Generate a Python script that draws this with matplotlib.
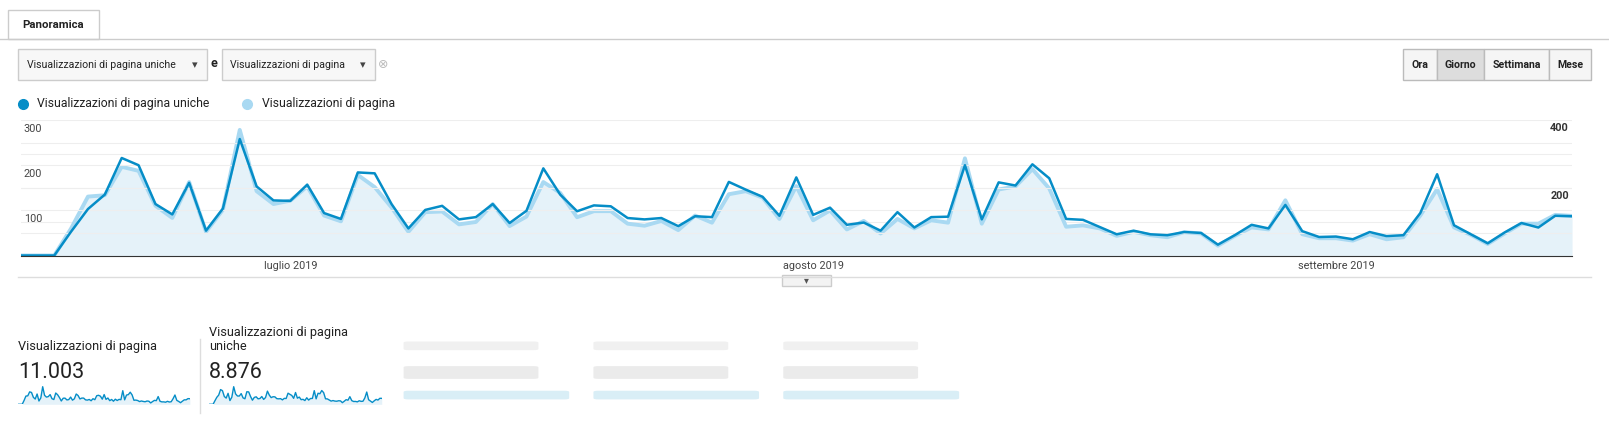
import matplotlib
matplotlib.use("Agg")
import matplotlib.pyplot as plt
from matplotlib.patches import Rectangle, FancyBboxPatch
from matplotlib.transforms import blended_transform_factory
import numpy as np

plt.rcParams['font.family'] = ['Roboto', 'DejaVu Sans']

W, H = 1609, 426
S = 1609 / 1568

# values (daily, 15 Jun - 15 Sep 2019)
unique_views = [0, 0, 0, 53, 103, 135, 216, 200, 114, 91, 161, 55, 104, 258, 153, 122,
                121, 157, 94, 81, 184, 182, 114, 60, 101, 110, 80, 85, 114, 72, 99, 193,
                135, 98, 111, 109, 83, 80, 83, 65, 87, 85, 163, 146, 130, 88, 173, 90,
                106, 68, 73, 55, 96, 62, 85, 86, 200, 80, 162, 155, 202, 171, 81, 79,
                63, 47, 55, 47, 45, 52, 50, 24, 45, 68, 60, 112, 54, 41, 42, 36, 52, 43,
                45, 94, 180, 67, 47, 27, 51, 72, 62, 88, 87]
page_views = [0, 0, 0, 80, 174, 178, 262, 250, 147, 111, 217, 70, 135, 371, 190, 152,
              162, 204, 118, 101, 238, 202, 142, 70, 128, 130, 92, 99, 152, 87, 115, 217,
              185, 113, 131, 131, 94, 88, 102, 75, 118, 97, 181, 190, 171, 108, 205, 104,
              133, 77, 102, 65, 108, 80, 104, 97, 287, 94, 195, 204, 255, 198, 85, 89,
              80, 58, 70, 60, 54, 69, 65, 29, 58, 83, 77, 163, 63, 51, 51, 44, 63, 48,
              54, 118, 196, 83, 61, 34, 65, 94, 94, 120, 117]
month_idx = [16, 47, 78]
month_labels = ["luglio 2019", "agosto 2019", "settembre 2019"]
left_ticks = [100, 200, 300]
right_ticks = [200, 400]

DARK = "#058dc7"
LIGHT = "#a9d9f2"
FILL = "#e5f2f9"

fig = plt.figure(figsize=(W / 100, H / 100), dpi=100)
fig.patch.set_facecolor("white")

def fx(x):
    return x * S / W

def fy(y):
    return 1 - y * S / H

def txt(x, y, s, **kw):
    kw.setdefault("fontsize", 8.2)
    kw.setdefault("color", "#222222")
    kw.setdefault("va", "center")
    fig.text(fx(x), fy(y), s, **kw)

def rect(x0, y0, x1, y1, fc="white", ec="#cccccc", lw=1, z=1, **kw):
    fig.patches.append(Rectangle((fx(x0), fy(y1)), fx(x1) - fx(x0), fy(y0) - fy(y1),
                                 transform=fig.transFigure, facecolor=fc, edgecolor=ec,
                                 linewidth=lw, zorder=z, **kw))

def hline(x0, x1, y, color="#cccccc", lw=1):
    fig.add_artist(plt.Line2D([fx(x0), fx(x1)], [fy(y), fy(y)], color=color, lw=lw,
                              transform=fig.transFigure))

# tab
hline(0, 1568, 38)
rect(8, 10, 96, 38, fc="white", ec="#cccccc")
txt(52, 24, "Panoramica", ha="center", fontweight="bold", fontsize=8.2)

# dropdowns
rect(18, 48, 202, 78, fc="#f7f7f7")
txt(26, 63, "Visualizzazioni di pagina uniche", fontsize=7.6)
txt(190, 63, "▾", ha="center", fontsize=8, color="#444444")
txt(208, 62, "e", ha="center", fontsize=9, fontweight="bold")
rect(216, 48, 365, 78, fc="#f7f7f7")
txt(224, 63, "Visualizzazioni di pagina", fontsize=7.6)
txt(354, 63, "▾", ha="center", fontsize=8, color="#444444")
txt(373, 63, "⊗", ha="center", fontsize=9, color="#bbbbbb")

# buttons
btns = [("Ora", 1367, 1400), ("Giorno", 1400, 1446), ("Settimana", 1446, 1510), ("Mese", 1510, 1550)]
for lab, a, b in btns:
    rect(a, 48, b, 78, fc="#dddddd" if lab == "Giorno" else "#f5f5f5", ec="#bbbbbb")
    txt((a + b) / 2, 63, lab, ha="center", fontweight="bold", fontsize=7.6)

# legend
fig.add_artist(plt.Line2D([fx(22)], [fy(101)], marker="o", markersize=7, color=DARK,
                          transform=fig.transFigure))
txt(36, 101, "Visualizzazioni di pagina uniche", fontsize=8.8)
fig.add_artist(plt.Line2D([fx(241)], [fy(101)], marker="o", markersize=7, color=LIGHT,
                          transform=fig.transFigure))
txt(255, 101, "Visualizzazioni di pagina", fontsize=8.8)

# main chart
x = np.arange(len(unique_views))
ax = fig.add_axes([fx(20), fy(249), fx(1532) - fx(20), fy(117) - fy(249)])
ax2 = ax.twinx()
ax2.set_zorder(1)
ax.set_zorder(2)
ax.patch.set_visible(False)
ax.set_xlim(0, len(x) - 1)
ax.set_ylim(0, 300)
ax2.set_ylim(0, 400)
for v in [50, 100, 150, 200, 250, 300]:
    ax.axhline(v, color="#eeeeee", lw=0.8, zorder=0)
for v in [100, 200, 300]:
    ax2.axhline(v, color="#eeeeee", lw=0.8, zorder=0)
ax2.fill_between(x, page_views, 0, color=FILL, lw=0)
ax2.plot(x, page_views, color=LIGHT, lw=2.8)
ax.plot(x, unique_views, color=DARK, lw=1.8)
for a in (ax, ax2):
    for sp in a.spines.values():
        sp.set_visible(False)
    a.set_yticks([])
ax.spines["bottom"].set_visible(True)
ax.spines["bottom"].set_color("#333333")
ax.set_xticks(month_idx)
ax.set_xticklabels(month_labels, fontsize=7.8, color="#444444")
ax.tick_params(axis="x", length=0, pad=4)
tl = blended_transform_factory(ax.transAxes, ax.transData)
for v in left_ticks:
    ax.text(0.002, v - 8, str(v), transform=tl, fontsize=7.8, color="#444444", va="top")
tr = blended_transform_factory(ax2.transAxes, ax2.transData)
for v in right_ticks:
    ax2.text(0.998, v - 10, str(v), transform=tr, fontsize=7.8, color="#333333",
             va="top", ha="right", fontweight="bold")

hline(18, 1550, 270, color="#dddddd")
rect(762, 268, 810, 279, fc="#f3f3f3", ec="#cccccc")
txt(786, 273, "▾", ha="center", fontsize=7, color="#555555")

# scorecards
txt(18, 338, "Visualizzazioni di pagina", fontsize=9.2)
txt(18, 363, "11.003", fontsize=15.5)
txt(204, 324, "Visualizzazioni di pagina", fontsize=9.2)
txt(204, 338, "uniche", fontsize=9.2)
txt(204, 363, "8.876", fontsize=15.5)
fig.add_artist(plt.Line2D([fx(195), fx(195)], [fy(330), fy(402)], color="#dddddd", lw=1,
                          transform=fig.transFigure))

def spark(x0, x1, series):
    sa = fig.add_axes([fx(x0), fy(394), fx(x1) - fx(x0), fy(376) - fy(394)])
    sa.plot(x, series, color=DARK, lw=1)
    sa.fill_between(x, series, 0, color=FILL, lw=0)
    sa.set_xlim(0, len(x) - 1)
    sa.set_ylim(0, max(series) * 1.05)
    sa.axis("off")

spark(18, 185, page_views)
spark(204, 372, unique_views)

# blurred cards
for a, b in [(390, 560), (575, 745), (760, 940)]:
    for yy, hh, al in [(334, 6, 0.12), (358, 10, 0.16)]:
        fig.patches.append(FancyBboxPatch((fx(a + 8), fy(yy + hh)), fx(a + 130) - fx(a + 8),
                                          fy(yy) - fy(yy + hh), boxstyle="round,pad=0.003",
                                          transform=fig.transFigure, fc="#888888",
                                          ec="none", alpha=al))
    fig.patches.append(FancyBboxPatch((fx(a + 8), fy(388)), fx(b - 10) - fx(a + 8),
                                      fy(382) - fy(388), boxstyle="round,pad=0.003",
                                      transform=fig.transFigure, fc=DARK, ec="none", alpha=0.15))

fig.savefig("out.png", dpi=100, facecolor="white")
